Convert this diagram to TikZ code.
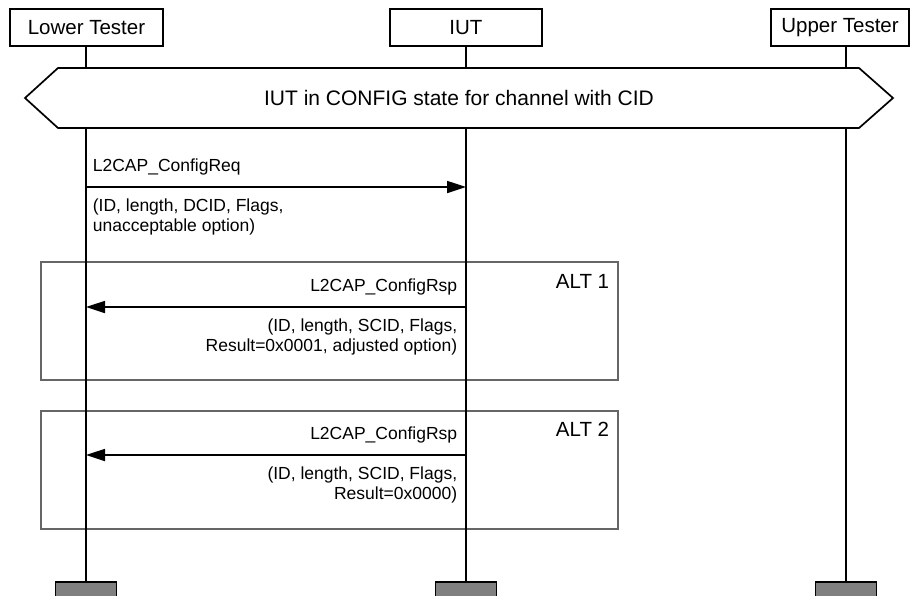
\documentclass[tikz,border=0pt]{standalone}
\usepackage{fontspec}
\setmainfont{Liberation Sans}
\usetikzlibrary{arrows.meta}

\begin{document}
\begin{tikzpicture}[x=1pt,y=-1pt,line width=1.7pt]
\tikzstyle{every node}=[inner sep=0pt, font=\fontsize{17.5}{20}\selectfont]
\tikzstyle{entity}=[draw, rectangle, fill=white, minimum height=37pt, font=\fontsize{20.5}{24}\selectfont]
\tikzstyle{endbox}=[draw, rectangle, fill=black!50, minimum width=61pt, minimum height=18pt, anchor=north]
\tikzstyle{altbox}=[draw=black!60, line width=1.2pt]
\tikzstyle{msg}=[-{Triangle[length=19pt,width=12pt]}]
\tikzstyle{big}=[font=\fontsize{20.5}{24}\selectfont]

\useasboundingbox (0,0) rectangle (912,595);

% instances
\node[entity, minimum width=153pt] (LT) at (86.5,27.5) {Lower Tester};
\node[entity, minimum width=152pt] (IUT) at (466,27.5) {IUT};
\node[entity, minimum width=138pt] (UT) at (840,27.5) {Upper Tester};

\node[endbox] (LTe) at (86,581) {};
\node[endbox] (IUTe) at (466,581) {};
\node[endbox] (UTe) at (846,581) {};

% alternatives
\draw[altbox] (41,262) rectangle (618,380);
\node[big, anchor=east] (alt1) at (610,281) {ALT 1};
\draw[altbox] (41,411) rectangle (618,529);
\node[big, anchor=east] (alt2) at (610,429) {ALT 2};

% lifelines
\draw (LT.south -| LTe.north) -- (LTe.north);
\draw (IUT.south -| IUTe.north) -- (IUTe.north);
\draw (UTe.north |- UT.south) -- (UTe.north);

% condition
\draw[fill=white] (25,98) -- (58,68) -- (859,68) -- (893,98) -- (859,128) -- (58,128) -- cycle;
\node[font=\fontsize{21}{24}\selectfont] (state) at (459,98) {IUT in CONFIG state for channel with CID};

% messages
\coordinate (req-l) at (86,187);
\coordinate (req-r) at (466,187);
\coordinate (rsp1-l) at (86,307);
\coordinate (rsp1-r) at (466,307);
\coordinate (rsp2-l) at (86,455);
\coordinate (rsp2-r) at (466,455);

\draw[msg] (req-l) -- (req-r);
\node[anchor=base west] (reqname) at (92,171) {L2CAP\_ConfigReq};
\node[anchor=north west, align=left] (reqpar) at (92,198) {(ID, length, DCID, Flags,\\unacceptable option)};

\draw[msg] (rsp1-r) -- (rsp1-l);
\node[anchor=base east] (rsp1name) at (458,291) {L2CAP\_ConfigRsp};
\node[anchor=north east, align=right] (rsp1par) at (458,318) {(ID, length, SCID, Flags,\\Result=0x0001, adjusted option)};

\draw[msg] (rsp2-r) -- (rsp2-l);
\node[anchor=base east] (rsp2name) at (458,439) {L2CAP\_ConfigRsp};
\node[anchor=north east, align=right] (rsp2par) at (458,466) {(ID, length, SCID, Flags,\\Result=0x0000)};

\end{tikzpicture}
\end{document}
